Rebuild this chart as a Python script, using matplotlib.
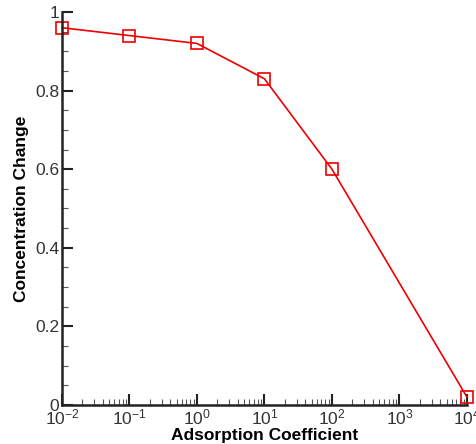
import matplotlib
matplotlib.use("Agg")
import matplotlib.pyplot as plt
from matplotlib.ticker import LogLocator, MultipleLocator, FixedLocator

plt.rcParams['font.family'] = ['Liberation Sans', 'DejaVu Sans']
plt.rcParams['mathtext.fontset'] = 'custom'
plt.rcParams['mathtext.rm'] = 'Liberation Sans'
plt.rcParams['mathtext.it'] = 'Liberation Sans'
plt.rcParams['axes.unicode_minus'] = False

adsorption = [1e-2, 1e-1, 1e0, 1e1, 1e2, 1e4]
concentration = [0.96, 0.94, 0.92, 0.83, 0.60, 0.02]

fig = plt.figure(figsize=(4.76, 4.44), dpi=100)
ax = fig.add_axes([0.130, 0.088, 0.851, 0.885])

ax.plot(adsorption, concentration, color='#ee0000', lw=1.2,
        marker='s', ms=8, mfc='none', mec='#ee0000', mew=1.2, clip_on=False)

ax.set_xscale('log')
ax.set_xlim(1e-2, 1e4)
ax.set_ylim(0, 1)

ax.spines['top'].set_visible(False)
ax.spines['right'].set_visible(False)
ax.spines['left'].set_linewidth(1.8)
ax.spines['bottom'].set_linewidth(1.8)
ax.spines['left'].set_color('#222222')
ax.spines['bottom'].set_color('#222222')

ax.xaxis.set_major_locator(FixedLocator([1e-2, 1e-1, 1e0, 1e1, 1e2, 1e3, 1e4]))
ax.xaxis.set_minor_locator(LogLocator(base=10, subs=range(2, 10), numticks=20))
ax.set_xticklabels([r'$10^{-2}$', r'$10^{-1}$', r'$10^{0}$', r'$10^{1}$',
                    r'$10^{2}$', r'$10^{3}$', r'$10^{4}$'])
ax.set_yticks([0, 0.2, 0.4, 0.6, 0.8, 1.0])
ax.set_yticklabels(['0', '0.2', '0.4', '0.6', '0.8', '1'])
ax.yaxis.set_minor_locator(MultipleLocator(0.05))

ax.tick_params(which='major', direction='in', length=8, width=1.5,
               labelsize=12.5, colors='#222222', labelcolor='#333333', pad=2)
ax.tick_params(which='minor', direction='in', length=4, width=0.8, colors='#555555')

ax.set_xlabel('Adsorption Coefficient', fontsize=12.5, fontweight='bold', labelpad=0)
ax.set_ylabel('Concentration Change', fontsize=12.5, fontweight='bold', labelpad=4)

fig.savefig('out.png', dpi=100)
